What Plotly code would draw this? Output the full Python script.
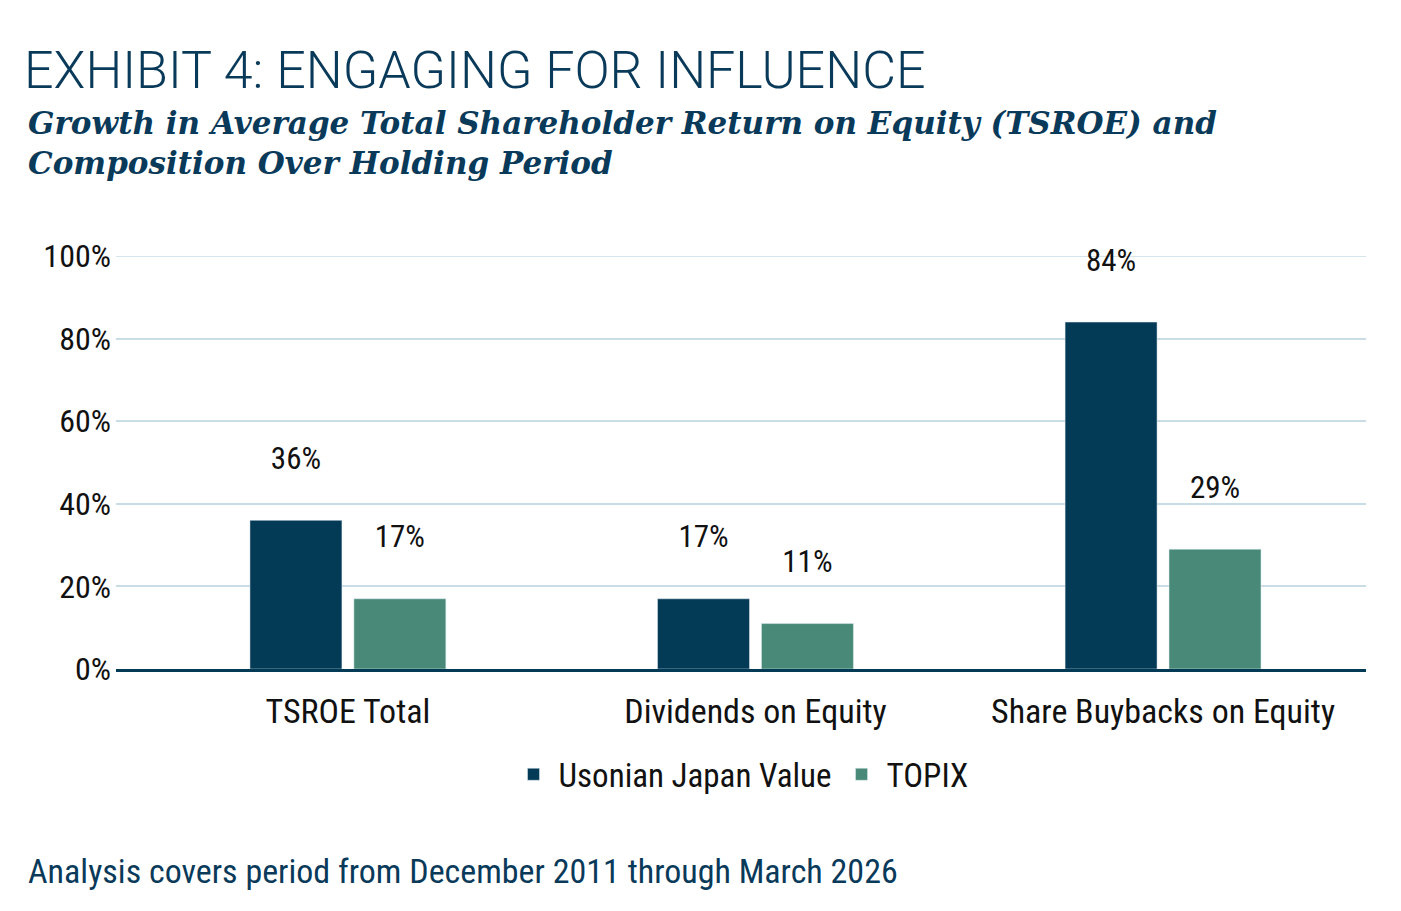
import plotly.graph_objects as go

categories = ["TSROE Total", "Dividends on Equity", "Share Buybacks on Equity"]
usonian = [36, 17, 84]
topix = [17, 11, 29]
y_ticks = [0, 20, 40, 60, 80, 100]
y_tick_labels = ["0%", "20%", "40%", "60%", "80%", "100%"]

NAVY = "#033a56"
GREEN = "#488a77"
FONT = "Roboto Condensed, Roboto, sans-serif"

fig = go.Figure()
fig.add_trace(go.Bar(x=categories, y=usonian, name="Usonian Japan Value", marker_color=NAVY,
                     text=[f"{v}%<br> " for v in usonian], textposition="outside",
                     textfont=dict(size=31, color="#111111"), cliponaxis=False))
fig.add_trace(go.Bar(x=categories, y=topix, name="TOPIX", marker_color=GREEN,
                     text=[f"{v}%<br> " for v in topix], textposition="outside",
                     textfont=dict(size=31, color="#111111"), cliponaxis=False))

fig.update_layout(
    width=1401, height=911,
    plot_bgcolor="white", paper_bgcolor="white",
    font=dict(family=FONT, color="#111111"),
    margin=dict(l=108, r=43, t=248, b=250, autoexpand=False),
    barmode="group", bargap=0.49, bargroupgap=0.115,
    showlegend=True,
    legend=dict(orientation="h", x=0.5, xanchor="center", y=-0.255, yanchor="middle",
                font=dict(size=33, color="#111111"), itemwidth=40, tracegroupgap=0),
    annotations=[
        dict(text="EXHIBIT 4: ENGAGING FOR INFLUENCE", xref="paper", yref="paper",
             x=-0.075, y=1.45, xanchor="left", yanchor="middle", showarrow=False,
             font=dict(size=52, color="#0a3a5a", family="Roboto Light, Roboto, sans-serif")),
        dict(text="<b><i>Growth in Average Total Shareholder Return on Equity (TSROE) and<br>Composition Over Holding Period</i></b>",
             xref="paper", yref="paper", x=-0.072, y=1.37, xanchor="left", yanchor="top",
             align="left", showarrow=False,
             font=dict(size=31, color="#0a3a5a", family="DejaVu Serif, serif")),
        dict(text="Analysis covers period from December 2011 through March 2026", xref="paper",
             yref="paper", x=-0.072, y=-0.49, xanchor="left", yanchor="middle",
             showarrow=False, font=dict(size=34, color="#0a3a5a")),
    ],
)
fig.update_yaxes(range=[0, 100], tickvals=y_ticks, ticktext=y_tick_labels,
                 gridcolor="#c9dde6", gridwidth=1.5, zeroline=False, automargin=False,
                 tickfont=dict(size=32, color="#111111"), ticklabelstandoff=4)
fig.update_xaxes(range=[-0.569, 2.498], showline=True, linecolor=NAVY, linewidth=2.5,
                 automargin=False, tickfont=dict(size=34, color="#111111"), ticklabelstandoff=10)
# keep top gridline visible
fig.add_hline(y=100, line_color="#c9dde6", line_width=1.5, layer="below")

fig.write_html("out.html")
